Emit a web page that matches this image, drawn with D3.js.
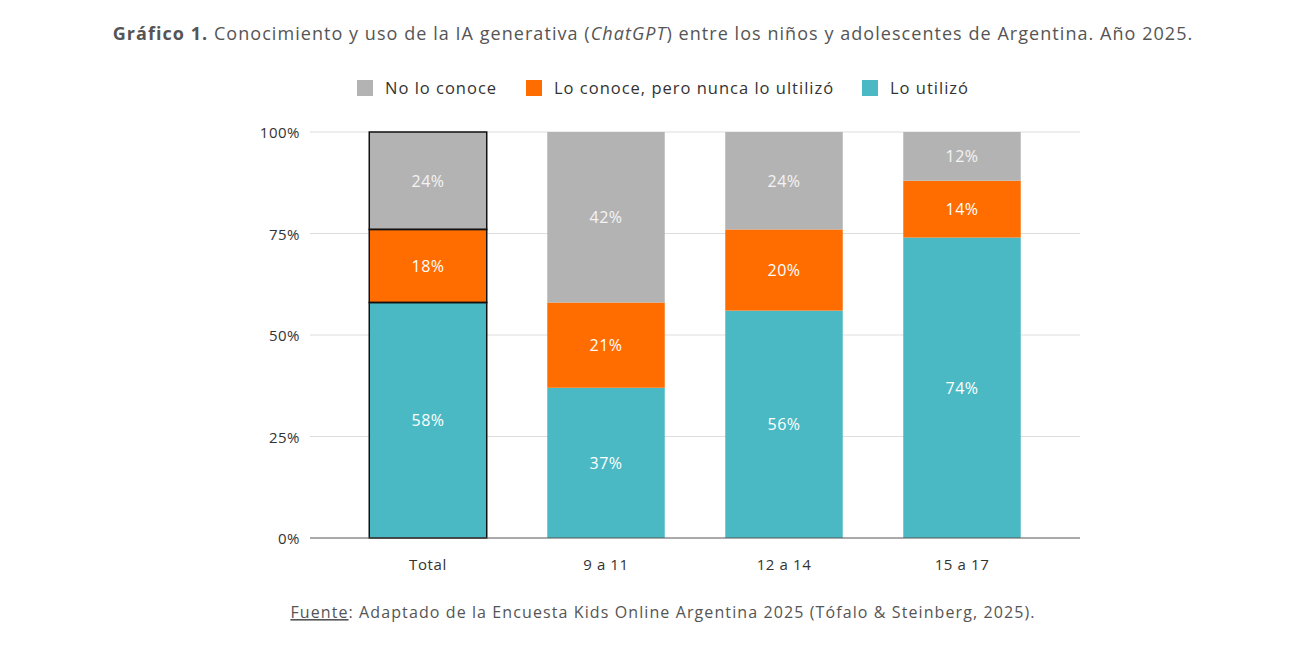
<!DOCTYPE html>
<html><head><meta charset="utf-8">
<script src="https://cdn.jsdelivr.net/npm/d3@7"></script>
<style>body{margin:0;background:#fff;font-family:"Open Sans",sans-serif;}</style>
</head><body>
<svg id="chart" width="1300" height="655"></svg>
<script>
const categories = ['Total', '9 a 11', '12 a 14', '15 a 17'];
const seriesNames = ['Lo utilizó', 'Lo conoce, pero nunca lo ultilizó', 'No lo conoce'];
const utilizo = [58, 37, 56, 74];
const conoce = [18, 21, 20, 14];
const noConoce = [24, 42, 24, 12];
const yTicks = [0, 25, 50, 75, 100];
const colors = ['#4ab9c4', '#ff6d00', '#b3b3b3'];

let svg = d3.select('#chart');
let x = d3.scaleBand().domain(categories).range([339, 1051]).paddingInner(0.34).paddingOuter(0.17);
let y = d3.scaleLinear().domain([0, 100]).range([538, 132]);

// title
let title = svg.append('text').attr('x', 653).attr('y', 40).attr('text-anchor', 'middle')
	.style('font-size', '18px').style('letter-spacing', '1.05px').style('fill', '#555');
title.append('tspan').style('font-weight', 'bold').text('Gráfico 1.');
title.append('tspan').text(' Conocimiento y uso de la IA generativa (');
title.append('tspan').style('font-style', 'italic').text('ChatGPT');
title.append('tspan').text(') entre los niños y adolescentes de Argentina. Año 2025.');

// grid
svg.append('g').selectAll('line').data(yTicks.slice(1)).join('line')
	.attr('x1', 310).attr('x2', 1080).attr('y1', d => y(d)).attr('y2', d => y(d))
	.style('stroke', '#ddd');
svg.append('g').selectAll('text').data(yTicks).join('text')
	.attr('x', 300).attr('y', d => y(d) + 6).attr('text-anchor', 'end')
	.style('font-size', '15px').style('letter-spacing', '0.5px').style('fill', '#333').text(d => d + '%');

// stacked bars
let rows = categories.map((c, i) => ({cat: c, vals: [utilizo[i], conoce[i], noConoce[i]]}));
let stack = d3.stack().keys([0, 1, 2]).value((d, k) => d.vals[k]);
let layers = stack(rows);
layers.forEach((layer, k) => {
	let g = svg.append('g');
	g.selectAll('rect').data(layer).join('rect')
		.attr('x', d => x(d.data.cat)).attr('width', x.bandwidth())
		.attr('y', d => y(d[1])).attr('height', d => y(d[0]) - y(d[1]))
		.style('fill', colors[k]);
	g.selectAll('text').data(layer).join('text')
		.attr('x', d => x(d.data.cat) + x.bandwidth() / 2)
		.attr('y', d => (y(d[0]) + y(d[1])) / 2 + 6)
		.attr('text-anchor', 'middle').style('font-size', '16px').style('letter-spacing', '0.5px')
		.style('fill', k == 2 ? '#f4f4f4' : '#fff')
		.text(d => d.data.vals[k] + '%');
});
// outline on Total bar
svg.append('g').selectAll('rect').data(layers.map(l => l[0])).join('rect')
	.attr('x', d => x(d.data.cat)).attr('width', x.bandwidth())
	.attr('y', d => y(d[1])).attr('height', d => y(d[0]) - y(d[1]))
	.style('fill', 'none').style('stroke', '#111').style('stroke-width', 1.5);

// baseline + x labels
svg.append('line').attr('x1', 310).attr('x2', 1080).attr('y1', y(0)).attr('y2', y(0)).style('stroke', '#555');
svg.append('g').selectAll('text').data(categories).join('text')
	.attr('x', d => x(d) + x.bandwidth() / 2).attr('y', 570).attr('text-anchor', 'middle')
	.style('font-size', '15px').style('letter-spacing', '0.6px').style('fill', '#333').text(d => d);

// legend
let legendOrder = [2, 1, 0];
let legX = [357, 526, 862];
let leg = svg.append('g').selectAll('g').data(legendOrder).join('g')
	.attr('transform', (d, i) => `translate(${legX[i]},80)`);
leg.append('rect').attr('width', 16).attr('height', 16).style('fill', d => colors[d]);
leg.append('text').attr('x', 28).attr('y', 14).style('font-size', '16.5px').style('letter-spacing', '1px').style('fill', '#333')
	.text(d => seriesNames[d]);

// source
let src = svg.append('text').attr('x', 663).attr('y', 618).attr('text-anchor', 'middle')
	.style('font-size', '16px').style('letter-spacing', '1.1px').style('fill', '#555');
src.append('tspan').style('text-decoration', 'underline').text('Fuente');
src.append('tspan').text(': Adaptado de la Encuesta Kids Online Argentina 2025 (Tófalo & Steinberg, 2025).');
</script>
</body></html>
